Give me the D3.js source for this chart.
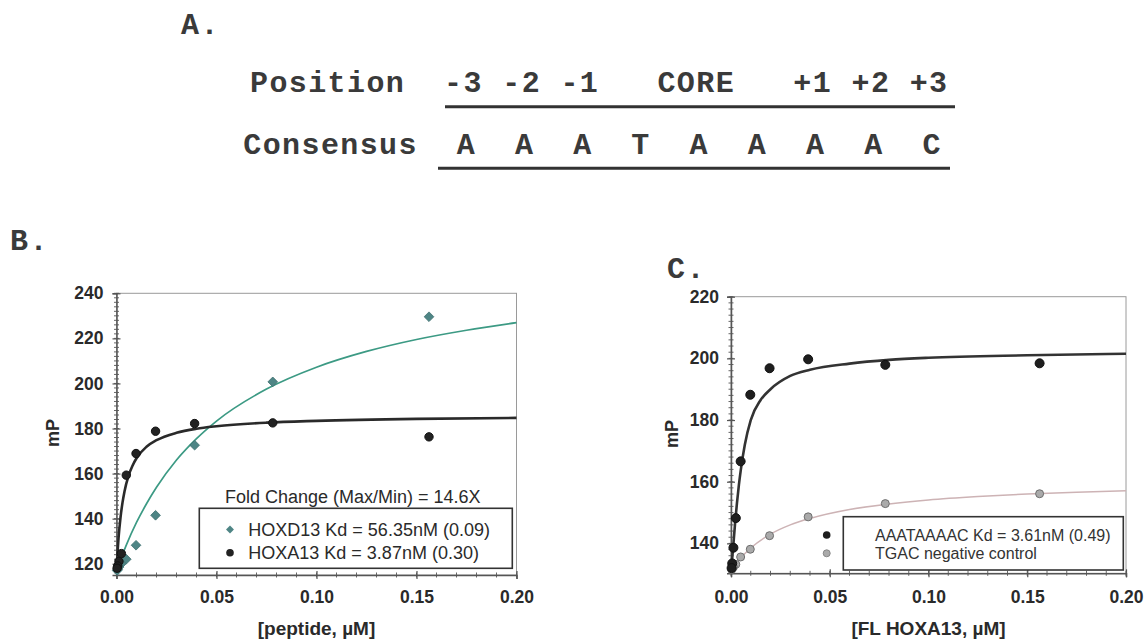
<!DOCTYPE html>
<html><head><meta charset="utf-8">
<script src="https://cdn.jsdelivr.net/npm/d3@7"></script>
<style>body{margin:0;background:#fff}svg{display:block}</style>
</head><body>
<svg id="chart" width="1144" height="642"></svg>
<script>
// ---------- Panel A ----------
const positionLabels = ["-3", "-2", "-1", "CORE", "+1", "+2", "+3"];
const consensusBases = ["A", "A", "A", "T", "A", "A", "A", "A", "C"];

// ---------- Shared concentrations (µM) ----------
const conc = [0.15625, 0.078125, 0.0390625, 0.01953, 0.009766, 0.004883, 0.002441, 0.001221, 0.00061, 0.000305];

// ---------- Panel B ----------
const hoxd13 = [229.6, 200.7, 172.6, 141.5, 128.2, 122.0, 120.0, 118.5, 117.5, 117.0];
const hoxa13 = [176.3, 182.5, 182.2, 178.8, 168.9, 159.3, 124.5, 121.0, 119.0, 118.0];
const fitB_x_hoxa13 = [0, 0.0005, 0.001, 0.002, 0.003, 0.004, 0.006, 0.008, 0.01, 0.015, 0.02, 0.03, 0.04, 0.05, 0.075, 0.1, 0.15, 0.2];
const fitB_y_hoxa13 = [117, 124.9, 131.2, 140.5, 147.1, 152.1, 159.0, 163.5, 166.8, 171.9, 174.8, 178.1, 179.9, 181.0, 182.6, 183.4, 184.3, 184.7];
const fitB_x_hoxd13 = [0, 0.0025, 0.005, 0.01, 0.015, 0.02, 0.03, 0.04, 0.05, 0.075, 0.1, 0.125, 0.15, 0.175, 0.2];
const fitB_y_hoxd13 = [117, 123.0, 128.5, 138.3, 146.6, 153.9, 166.0, 175.5, 183.3, 197.5, 207.2, 214.2, 219.5, 223.6, 227.0];
const legendB = ["HOXD13 Kd = 56.35nM (0.09)", "HOXA13 Kd = 3.87nM (0.30)"];
const foldChangeText = "Fold Change (Max/Min) = 14.6X";

// ---------- Panel C ----------
const aaataaaac = [198.4, 197.9, 199.7, 196.8, 188.2, 166.6, 148.2, 138.6, 133.5, 132.0];
const tgac = [156.1, 152.9, 148.6, 142.5, 138.1, 135.6, 133.2, 132.3, 131.8, 131.5];
const fitC_x_aaat = [0, 0.001, 0.002, 0.003, 0.004, 0.005, 0.007, 0.01, 0.015, 0.02, 0.03, 0.04, 0.06, 0.08, 0.1, 0.15, 0.2];
const fitC_y_aaat = [131, 138, 146, 153, 159, 164, 172, 180, 186.5, 190, 194.3, 196.3, 198.3, 199.5, 200.2, 201.0, 201.5];
const fitC_x_tgac = [0, 0.0025, 0.005, 0.01, 0.02, 0.03, 0.04, 0.06, 0.08, 0.1, 0.125, 0.15, 0.175, 0.2];
const fitC_y_tgac = [131, 133.3, 135.3, 138.5, 143.0, 146.0, 148.1, 151.0, 152.8, 154.1, 155.2, 156.0, 156.6, 157.1];
const legendC = ["AAATAAAAC Kd = 3.61nM (0.49)", "TGAC negative control"];

// ---------- Axis ticks ----------
const xTicks = [0, 0.05, 0.10, 0.15, 0.20];
const yTicksB = [120, 140, 160, 180, 200, 220, 240];
const yTicksC = [140, 160, 180, 200, 220];

const svg = d3.select("#chart");
svg.append("rect").attr("width", 1144).attr("height", 642).attr("fill", "#fff");

const mono = "'Liberation Mono','DejaVu Sans Mono',monospace";
const sans = "'Liberation Sans',Arial,Helvetica,sans-serif";

function monoText(t, x, y) {
  return svg.append("text").attr("x", x).attr("y", y).text(t)
    .style("white-space", "pre").attr("font-family", mono).attr("font-weight", "bold")
    .attr("font-size", 30).attr("letter-spacing", 1.4).attr("fill", "#3a3a3a");
}
// Panel labels
monoText("A.", 181, 34);
monoText("B.", 10, 250);
monoText("C.", 667, 278);

// Panel A sequence table
const posLine = "Position  " + positionLabels.slice(0, 3).join(" ") + "   " + positionLabels[3] + "   " + positionLabels.slice(4).join(" ");
const conLine = "Consensus  " + consensusBases.join("  ");
monoText(posLine, 250, 92);
monoText(conLine, 243.3, 154);
svg.append("line").attr("x1", 445).attr("x2", 955).attr("y1", 106.7).attr("y2", 106.7)
  .attr("stroke", "#333").attr("stroke-width", 3);
svg.append("line").attr("x1", 438).attr("x2", 950).attr("y1", 168.3).attr("y2", 168.3)
  .attr("stroke", "#333").attr("stroke-width", 3);

function panel(cfg) {
  const x = d3.scaleLinear().domain([0, 0.2]).range([cfg.left, cfg.right]);
  const y = d3.scaleLinear().domain(cfg.yDomain).range([cfg.bottom, cfg.top]);
  const g = svg.append("g");

  g.append("rect").attr("x", cfg.left).attr("y", cfg.top)
    .attr("width", cfg.right - cfg.left).attr("height", cfg.bottom - cfg.top)
    .attr("fill", "none").attr("stroke", "#9a9a9a").attr("stroke-width", 1);

  const yMinor = d3.range(Math.ceil(cfg.yDomain[0] / 2) * 2, cfg.yDomain[1] + 0.01, 2);
  g.selectAll(".ym").data(yMinor).join("line")
    .attr("x1", cfg.left - 2.5).attr("x2", cfg.left + 2.5)
    .attr("y1", d => y(d)).attr("y2", d => y(d))
    .attr("stroke", "#666").attr("stroke-width", 1);
  const xMinor = d3.range(0, 0.2001, 0.01);
  g.selectAll(".xm").data(xMinor).join("line")
    .attr("x1", d => x(d)).attr("x2", d => x(d))
    .attr("y1", cfg.bottom - 2.5).attr("y2", cfg.bottom + 2.5)
    .attr("stroke", "#666").attr("stroke-width", 1);

  const xa = g.append("g").attr("transform", `translate(0,${cfg.bottom})`)
    .call(d3.axisBottom(x).tickValues(xTicks).tickFormat(d3.format(".2f")).tickSize(4).tickPadding(cfg.xPad));
  const ya = g.append("g").attr("transform", `translate(${cfg.left},0)`)
    .call(d3.axisLeft(y).tickValues(cfg.yTicks).tickFormat(d3.format("d")).tickSize(4).tickPadding(cfg.yPad));
  [xa, ya].forEach(a => {
    a.select(".domain").attr("stroke", "#555").attr("stroke-width", 1.5);
    a.selectAll(".tick line").attr("stroke", "#555").attr("stroke-width", 1.2);
    a.selectAll(".tick text").attr("font-family", sans).attr("font-weight", "bold")
      .attr("font-size", 17.5).attr("fill", "#2a2a2a");
  });
  ya.selectAll(".tick line").attr("x2", 4).attr("x1", -4);
  xa.selectAll(".tick line").attr("y1", -4).attr("y2", 4);

  svg.append("text").attr("x", (cfg.left + cfg.right) / 2).attr("y", 635).text(cfg.xTitle)
    .attr("text-anchor", "middle").attr("font-family", sans).attr("font-weight", "bold")
    .attr("font-size", 19).attr("fill", "#2a2a2a");
  svg.append("text").attr("transform", `translate(${cfg.mpX},${cfg.mpY}) rotate(-90)`).text("mP")
    .attr("text-anchor", "middle").attr("dominant-baseline", "central")
    .attr("font-family", sans).attr("font-weight", "bold").attr("font-size", 18).attr("fill", "#2a2a2a");

  const line = d3.line().x(d => x(d[0])).y(d => y(d[1])).curve(d3.curveMonotoneX);
  cfg.fits.forEach(f => {
    g.append("path").datum(d3.zip(f.xs, f.ys)).attr("d", line)
      .attr("fill", "none").attr("stroke", f.color).attr("stroke-width", f.width);
  });
  cfg.series.forEach(s => {
    const pts = d3.zip(conc, s.values);
    if (s.shape === "diamond") {
      g.selectAll(null).data(pts).join("path")
        .attr("d", d3.symbol(d3.symbolDiamond2, 60))
        .attr("transform", d => `translate(${x(d[0])},${y(d[1])})`)
        .attr("fill", s.fill).attr("stroke", s.stroke).attr("stroke-width", 0.8);
    } else {
      g.selectAll(null).data(pts).join("circle")
        .attr("cx", d => x(d[0])).attr("cy", d => y(d[1])).attr("r", s.r)
        .attr("fill", s.fill).attr("stroke", s.stroke).attr("stroke-width", 1);
    }
  });
  return { x, y, g };
}

panel({
  left: 116.5, right: 516.5, top: 293.3, bottom: 575, yDomain: [115, 240], yTicks: yTicksB,
  xPad: 12, yPad: 9, xTitle: "[peptide, \u00b5M]", mpX: 53, mpY: 433,
  fits: [
    { xs: fitB_x_hoxd13, ys: fitB_y_hoxd13, color: "#3c9a84", width: 1.7 },
    { xs: fitB_x_hoxa13, ys: fitB_y_hoxa13, color: "#2a2a2a", width: 2.6 }
  ],
  series: [
    { values: hoxd13, shape: "diamond", fill: "#4e8585", stroke: "#3e6e6e" },
    { values: hoxa13, shape: "circle", r: 4.2, fill: "#222", stroke: "#111" }
  ]
});

// Legend B
svg.append("text").attr("x", 225).attr("y", 503).text(foldChangeText)
  .attr("font-family", sans).attr("font-size", 18).attr("fill", "#2a2a2a");
svg.append("rect").attr("x", 199.3).attr("y", 508.3).attr("width", 313).attr("height", 60)
  .attr("fill", "#fff").attr("stroke", "#333").attr("stroke-width", 1.6);
svg.append("path").attr("d", d3.symbol(d3.symbolDiamond2, 40)).attr("transform", "translate(230,529.5)")
  .attr("fill", "#4e8585");
svg.append("circle").attr("cx", 230).attr("cy", 552.7).attr("r", 3.8).attr("fill", "#222");
legendB.forEach((t, i) => {
  svg.append("text").attr("x", 248.3).attr("y", 536 + i * 23.4).text(t)
    .attr("font-family", sans).attr("font-size", 18).attr("fill", "#2a2a2a");
});

panel({
  left: 731, right: 1126, top: 296.7, bottom: 573.3, yDomain: [130.3, 220], yTicks: yTicksC,
  xPad: 13, yPad: 8, xTitle: "[FL HOXA13, \u00b5M]", mpX: 672, mpY: 434,
  fits: [
    { xs: fitC_x_tgac, ys: fitC_y_tgac, color: "#cdb3b5", width: 1.5 },
    { xs: fitC_x_aaat, ys: fitC_y_aaat, color: "#333", width: 2.6 }
  ],
  series: [
    { values: tgac, shape: "circle", r: 4.0, fill: "#aaa", stroke: "#6e6e6e" },
    { values: aaataaaac, shape: "circle", r: 4.5, fill: "#1e1e1e", stroke: "#111" }
  ]
});

// Legend C
svg.append("rect").attr("x", 843.3).attr("y", 516.7).attr("width", 280).attr("height", 53.3)
  .attr("fill", "#fff").attr("stroke", "#333").attr("stroke-width", 1.6);
svg.append("circle").attr("cx", 826.7).attr("cy", 535).attr("r", 3.8).attr("fill", "#1e1e1e");
svg.append("circle").attr("cx", 826.7).attr("cy", 553.3).attr("r", 3.5).attr("fill", "#aaa").attr("stroke", "#888");
legendC.forEach((t, i) => {
  svg.append("text").attr("x", 875).attr("y", 541 + i * 18.3).text(t)
    .attr("font-family", sans).attr("font-size", 16).attr("fill", "#333");
});
</script>
</body></html>
